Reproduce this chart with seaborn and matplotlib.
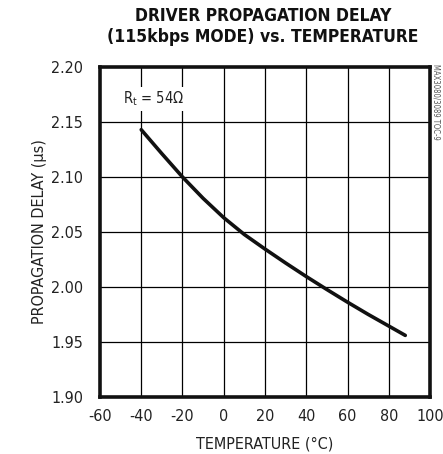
import matplotlib
matplotlib.use("Agg")
import matplotlib.pyplot as plt
import seaborn as sns
from pandas import DataFrame

# values
temperatura = [-40, -30, -20, -10, 0, 10, 20, 30, 40, 50, 60, 70, 80, 88]
retardo = [2.143, 2.1212, 2.100, 2.0806, 2.063, 2.0477, 2.0345, 2.0218, 2.0095, 1.9977, 1.9862, 1.9751, 1.9645, 1.956]
xticks = [-60, -40, -20, 0, 20, 40, 60, 80, 100]
yticks = [1.90, 1.95, 2.00, 2.05, 2.10, 2.15, 2.20]

sns.set_style("white")
plt.rcParams["font.family"] = ["DejaVu Sans"]
plt.rcParams["font.stretch"] = "condensed"

df = DataFrame({"Temperatura": temperatura, "Retardo": retardo})

fig = plt.figure(figsize=(4.43, 4.54), dpi=100)
ax = fig.add_axes([0.2257, 0.1256, 0.7450, 0.7268])

for x in xticks[1:-1]:
    ax.axvline(x, color="black", lw=0.9, zorder=1)
for y in yticks[1:-1]:
    ax.axhline(y, color="black", lw=0.9, zorder=1)

sns.lineplot(df, x="Temperatura", y="Retardo", ax=ax, color="#111111", lw=2.6, zorder=3)

ax.set_xlim(-60, 100)
ax.set_ylim(1.90, 2.20)
ax.set_xticks(xticks)
ax.set_yticks(yticks)
ax.set_xticklabels([str(v) for v in xticks])
ax.set_yticklabels([f"{v:.2f}" for v in yticks])
ax.tick_params(length=0, labelsize=11.5, colors="#222222")
ax.tick_params(axis="y", pad=12)
ax.tick_params(axis="x", pad=9)
for s in ax.spines.values():
    s.set_linewidth(2.6)
    s.set_color("#111111")

ax.set_xlabel("TEMPERATURE (°C)", fontsize=11.5, color="#222222", labelpad=9)
ax.set_ylabel("PROPAGATION DELAY (μs)", fontsize=11.5, color="#222222", labelpad=3)

ax.text(-49, 2.171, "R$_\\mathregular{t}$ = 54Ω", fontsize=10.5, color="#222222", va="center",
        ha="left", zorder=4, bbox=dict(facecolor="white", edgecolor="none", pad=2))

fig.text(0.593, 0.985, "DRIVER PROPAGATION DELAY\n(115kbps MODE) vs. TEMPERATURE",
         ha="center", va="top", fontsize=12.5, fontweight="bold", color="#111111", linespacing=1.2)
fig.text(0.985, 0.86, "MAX3080/3089 TOC-9", rotation=270, ha="center", va="top",
         fontsize=5.5, color="#555555")

plt.savefig("out.png", dpi=100)
plt.close()
